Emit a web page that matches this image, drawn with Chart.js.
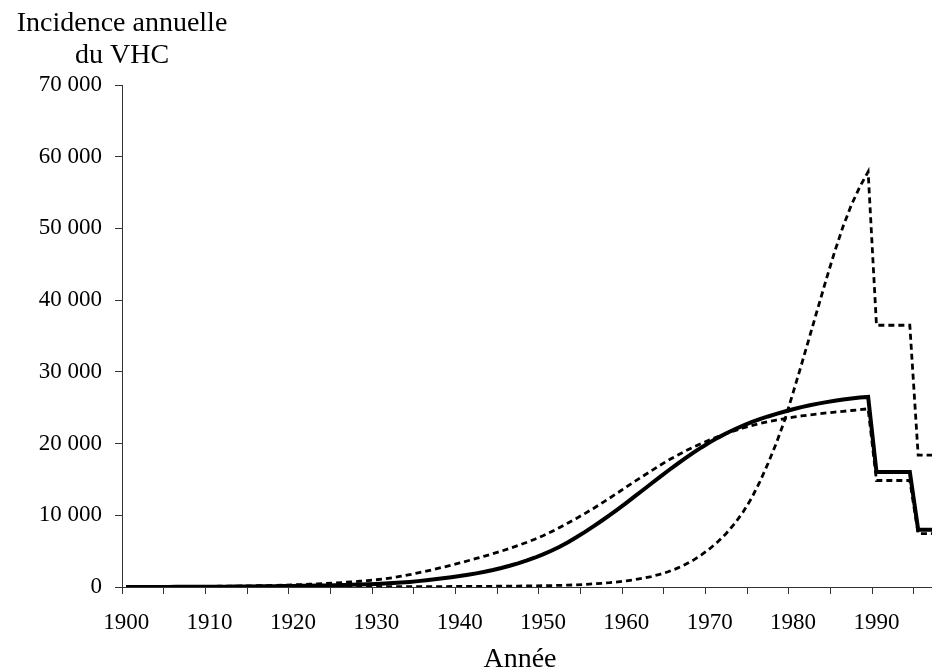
<!DOCTYPE html>
<html>
<head>
<meta charset="utf-8">
<script src="https://cdn.jsdelivr.net/npm/chart.js@4.4.1/dist/chart.umd.min.js"></script>
<style>
html,body{margin:0;padding:0;background:#fff;overflow:hidden;width:932px;height:670px}
#c{display:block}
</style>
</head>
<body>
<canvas id="c" width="939" height="670"></canvas>
<script>
// ---- Data ----
const firstYear = 1900, lastYear = 1997;
const years = Array.from({length: lastYear - firstYear + 1}, (_, i) => firstYear + i);

// Central estimate (thick solid line)
const central = [
  5, 7, 9, 11, 14, 17, 20, 24, 28, 33,
  38, 44, 51, 59, 68, 78, 89, 101, 114, 128,
  143, 160, 180, 202, 226, 252, 281, 313, 348, 387,
  430, 480, 545, 620, 710, 820, 940, 1070, 1210, 1360,
  1520, 1700, 1900, 2120, 2370, 2650, 2960, 3300, 3670, 4080,
  4540, 5050, 5620, 6250, 6930, 7650, 8410, 9200, 10020, 10870,
  11740, 12630, 13530, 14430, 15330, 16210, 17070, 17900, 18700, 19460,
  20170, 20830, 21440, 22000, 22510, 22980, 23400, 23780, 24130, 24470,
  24790, 25080, 25340, 25570, 25780, 25970, 26140, 26290, 26420, 26510,
  16050, 16050, 16050, 16050, 16050, 8000, 8000, 8000
];

// Early, gradual scenario (dashed)
const earlyScenario = [
  15, 18, 22, 27, 33, 40, 48, 57, 67, 78,
  90, 103, 117, 132, 148, 165, 184, 205, 228, 253,
  300, 340, 385, 435, 495, 560, 630, 710, 800, 900,
  1010, 1140, 1300, 1500, 1720, 1960, 2210, 2480, 2760, 3050,
  3350, 3660, 3980, 4310, 4650, 5000, 5380, 5780, 6200, 6650,
  7150, 7700, 8300, 8920, 9560, 10230, 10920, 11650, 12400, 13170,
  13950, 14720, 15470, 16200, 16950, 17650, 18300, 18920, 19490, 20020,
  20510, 20970, 21400, 21800, 22170, 22500, 22790, 23050, 23280, 23490,
  23680, 23850, 24000, 24140, 24270, 24390, 24500, 24610, 24720, 24850,
  14850, 14850, 14850, 14850, 14850, 7450, 7450, 7450
];

// Late, steep scenario (dashed)
const lateScenario = [
  0, 0, 0, 1, 1, 1, 2, 2, 2, 3,
  3, 4, 4, 5, 5, 6, 7, 8, 9, 10,
  11, 12, 14, 15, 17, 19, 21, 23, 26, 29,
  32, 35, 38, 42, 46, 50, 54, 58, 63, 68,
  73, 79, 85, 92, 100, 110, 120, 132, 146, 162,
  180, 200, 225, 255, 300, 360, 430, 510, 600, 720,
  860, 1020, 1220, 1460, 1760, 2120, 2560, 3090, 3720, 4470,
  5340, 6340, 7500, 8850, 10450, 12350, 14650, 17250, 20100, 23300,
  27100, 31000, 35000, 39000, 43000, 46800, 50300, 53300, 55800, 57900,
  36500, 36500, 36500, 36500, 36500, 18400, 18400, 18400
];

const yMin = 0, yMax = 70000, yStep = 10000;
const yTitleLines = ['Incidence annuelle', 'du VHC'];
const xTitle = 'Année';

// ---- Chart ----
const serif = "'Liberation Serif', 'Times New Roman', serif";
const fmt = v => String(v).replace(/\B(?=(\d{3})+(?!\d))/g, ' ');

const titlePlugin = {
  id: 'axisTitles',
  afterDraw(chart) {
    const {ctx, scales} = chart;
    ctx.save();
    ctx.fillStyle = '#000';
    ctx.font = '28px ' + serif;
    ctx.textAlign = 'center';
    ctx.textBaseline = 'alphabetic';
    const cx = scales.y.right;
    ctx.fillText(yTitleLines[0], cx, 31);
    ctx.fillText(yTitleLines[1], cx, 63);
    ctx.fillText(xTitle, 520, 667);
    ctx.restore();
  }
};

const dashed = (data) => ({
  data, borderColor: '#000', borderWidth: 2.8, borderDash: [6, 4],
  pointRadius: 0, tension: 0, fill: false, borderCapStyle: 'butt'
});

new Chart(document.getElementById('c'), {
  type: 'line',
  data: {
    labels: years,
    datasets: [
      {label: 'Central', data: central, borderColor: '#000', borderWidth: 4,
       pointRadius: 0, tension: 0, fill: false, borderCapStyle: 'butt', borderJoinStyle: 'miter'},
      Object.assign({label: 'Scénario précoce'}, dashed(earlyScenario)),
      Object.assign({label: 'Scénario tardif'}, dashed(lateScenario))
    ]
  },
  options: {
    responsive: false,
    maintainAspectRatio: false,
    animation: false,
    events: [],
    devicePixelRatio: 1,
    layout: {padding: {top: 85, left: 0, right: 0, bottom: 0}},
    plugins: {legend: {display: false}, tooltip: {enabled: false}, title: {display: false}},
    scales: {
      x: {
        type: 'category',
        offset: true,
        grid: {
          offset: true, drawOnChartArea: false, drawTicks: true, tickLength: 7, tickWidth: 1,
          tickColor: c => (c.index % 5 === 0 ? '#333' : 'rgba(0,0,0,0)')
        },
        border: {display: true, color: '#333', width: 1},
        ticks: {
          autoSkip: false, maxRotation: 0, minRotation: 0, padding: 0, color: '#000',
          font: {family: serif, size: 23, lineHeight: 2.5},
          callback: (v, i) => (years[i] % 10 === 0 ? String(years[i]) : '')
        },
        afterFit: s => { s.height = 83; }
      },
      y: {
        min: yMin, max: yMax,
        grid: {drawOnChartArea: false, drawTicks: true, tickLength: 7, tickWidth: 1, tickColor: '#333'},
        border: {display: true, color: '#333', width: 1},
        ticks: {
          stepSize: yStep, padding: 13, color: '#000',
          font: {family: serif, size: 23},
          callback: v => fmt(v)
        },
        afterFit: s => { s.width = 122; }
      }
    }
  },
  plugins: [titlePlugin]
});
</script>
</body>
</html>
